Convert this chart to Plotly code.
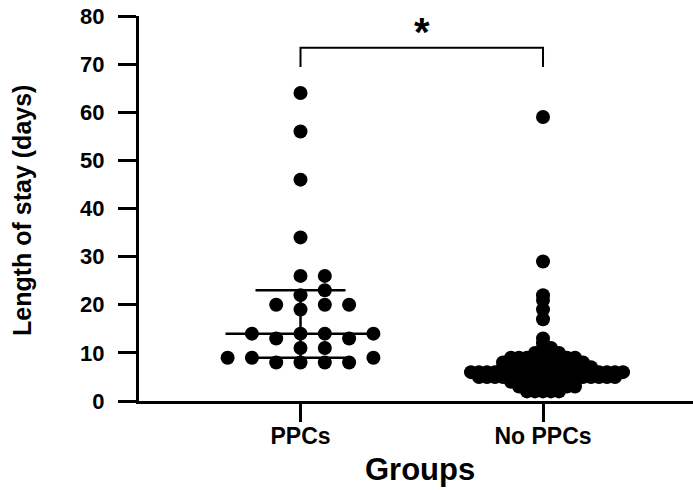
import numpy as np
import plotly.graph_objects as go

# ---------------- data ----------------
categories = ["PPCs", "No PPCs"]
ppcs_los = [64, 56, 46, 34, 26, 26, 23, 22, 20, 20, 20, 19, 14, 14, 14, 14,
            13, 13, 11, 11, 9, 9, 9, 8, 8, 8, 8]
no_ppcs_los = [59, 29, 22, 21, 19, 17, 13, 12, 11, 11,
               10, 10, 10, 10,
               9, 9, 9, 9, 9, 9, 9, 9, 9,
               8, 8, 8, 8, 8, 8, 8, 8, 8, 8, 8,
               7, 7, 7, 7, 7, 7, 7, 7, 7, 7, 7, 7,
               6, 6, 6, 6, 6, 6, 6, 6, 6, 6, 6, 6, 6, 6, 6, 6, 6, 6, 6, 6,
               5, 5, 5, 5, 5, 5, 5, 5, 5, 5, 5, 5, 5, 5, 5, 5, 5, 5,
               4, 4, 4, 4, 4, 4, 4, 4, 4,
               3, 3, 3, 3, 3, 3, 3, 3,
               2, 2, 2, 2, 2]
y_tick_vals = [0, 10, 20, 30, 40, 50, 60, 70, 80]
y_tick_text = ["0", "10", "20", "30", "40", "50", "60", "70", "80"]
significance = "*"

# ---------------- layout constants ----------------
W, H = 693, 490
M_L, M_R, M_T, M_B = 139, 0, 16, 88.5
X_RANGE = [0.334, 2.6185]
Y_RANGE = [0, 80]
plot_w = W - M_L - M_R
plot_h = H - M_T - M_B
px_per_x = plot_w / (X_RANGE[1] - X_RANGE[0])
px_per_y = plot_h / (Y_RANGE[1] - Y_RANGE[0])

FONT = "Liberation Sans, Arial, Helvetica, sans-serif"
MARKER_SIZE = 14
# swarm spacing per group (pixels): column step, minimum centre distance
SWARM = {"PPCs": (24.3, 14.0), "No PPCs": (8.0, 4.5)}
MEDIAN_HALF = 75 / px_per_x
QUART_HALF = 45 / px_per_x
BRACKET_TOP = 73.4
BRACKET_DROP = 4.0


def beeswarm(values, step_px, min_dist_px):
    vals = np.asarray(values, dtype=float)
    order = np.argsort(vals, kind="stable")
    placed = []
    offs = np.zeros(len(vals))
    for i in order:
        y = vals[i] * px_per_y
        k = 0
        found = None
        while found is None:
            cands = [0] if k == 0 else [k, -k]
            for c in cands:
                x = c * step_px
                if all((x - px) ** 2 + (y - py) ** 2 >= min_dist_px ** 2
                       for px, py in placed):
                    found = x
                    break
            k += 1
        placed.append((found, y))
        offs[i] = found
    return offs / px_per_x


groups = [ppcs_los, no_ppcs_los]
fig = go.Figure()

# median + interquartile lines (behind points)
lx, ly = [], []
for ci, (name, vals) in enumerate(zip(categories, groups)):
    c = ci + 1
    q1, med, q3 = np.percentile(vals, [25, 50, 75], method="weibull")
    lx += [c - MEDIAN_HALF, c + MEDIAN_HALF, None,
           c - QUART_HALF, c + QUART_HALF, None,
           c - QUART_HALF, c + QUART_HALF, None,
           c, c, None]
    ly += [med, med, None, q1, q1, None, q3, q3, None, q1, q3, None]
fig.add_trace(go.Scatter(x=lx, y=ly, mode="lines",
                         line=dict(color="black", width=2.5),
                         hoverinfo="skip", showlegend=False))

for ci, (name, vals) in enumerate(zip(categories, groups)):
    c = ci + 1
    step, dmin = SWARM[name]
    offs = beeswarm(vals, step, dmin)
    fig.add_trace(go.Scatter(x=c + offs, y=vals, mode="markers", name=name,
                             marker=dict(color="black", size=MARKER_SIZE,
                                         line=dict(width=0)),
                             cliponaxis=False, showlegend=False))

# significance bracket
fig.add_trace(go.Scatter(
    x=[1, 1, 2, 2],
    y=[BRACKET_TOP - BRACKET_DROP, BRACKET_TOP, BRACKET_TOP, BRACKET_TOP - BRACKET_DROP],
    mode="lines", line=dict(color="black", width=2),
    hoverinfo="skip", showlegend=False, cliponaxis=False))
fig.add_annotation(x=1.5, y=BRACKET_TOP, text=significance, showarrow=False,
                   yanchor="bottom", yshift=-8,
                   font=dict(family=FONT, size=40, color="black", weight="bold"))

# axis titles
fig.add_annotation(xref="paper", yref="paper", x=0, y=0.4935,
                   xanchor="center", yanchor="middle", xshift=-117,
                   text="Length of stay (days)", textangle=-90, showarrow=False,
                   font=dict(family=FONT, size=25, color="black", weight="bold"))
fig.add_annotation(xref="paper", yref="paper", x=0.5, y=0,
                   xanchor="center", yanchor="middle", xshift=4, yshift=-68,
                   text="Groups", showarrow=False,
                   font=dict(family=FONT, size=31, color="black", weight="bold"))

fig.update_layout(
    width=W, height=H,
    margin=dict(l=M_L, r=M_R, t=M_T, b=M_B, pad=0, autoexpand=False),
    paper_bgcolor="white", plot_bgcolor="white",
    font=dict(family=FONT, color="black"),
    hovermode=False,
    xaxis=dict(range=X_RANGE, tickvals=[1, 2], ticktext=categories,
               automargin=False,
               showgrid=False, zeroline=False, showline=True,
               linecolor="black", linewidth=3,
               ticks="outside", ticklen=18, tickwidth=3, tickcolor="black",
               ticklabelstandoff=-6,
               tickfont=dict(family=FONT, size=23, color="black", weight="bold")),
    yaxis=dict(range=Y_RANGE, tickvals=y_tick_vals, ticktext=y_tick_text,
               automargin=False,
               showgrid=False, zeroline=False, showline=True,
               linecolor="black", linewidth=3,
               ticks="outside", ticklen=18, tickwidth=3, tickcolor="black",
               ticklabelstandoff=9,
               tickfont=dict(family=FONT, size=22, color="black", weight="bold")),
)

# remove the browser's default 8px page margin so the figure fills the window
fig.write_html("out.html", config={"displayModeBar": False, "staticPlot": True},
               post_script="document.body.style.margin='0';")
